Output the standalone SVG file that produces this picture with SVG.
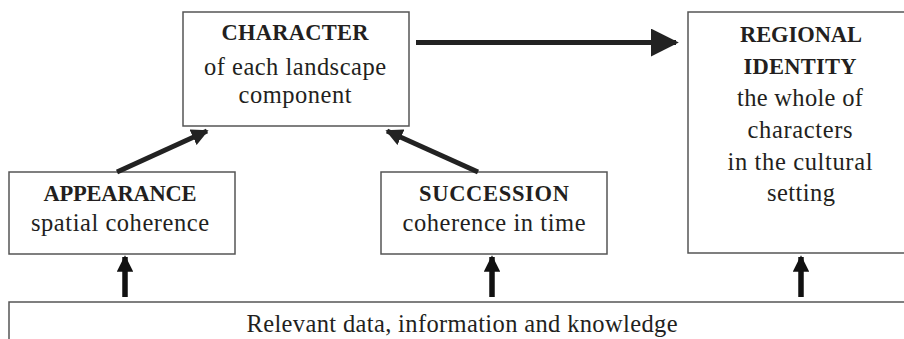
<svg xmlns="http://www.w3.org/2000/svg" width="904" height="339" viewBox="0 0 904 339">
<style>
.box{fill:#fff;stroke:#555;stroke-width:1.5}
text{font-family:"Liberation Serif","DejaVu Serif",serif;font-size:24.5px;fill:#231f20;text-anchor:middle}
.b{font-weight:bold;font-size:22.5px}
.ln{stroke:#222;stroke-width:5;fill:none}
.up{stroke:#111;stroke-width:5.5;fill:none}
</style>
<defs>
<marker id="ah" viewBox="0 0 10 10" refX="9" refY="5" markerWidth="5.6" markerHeight="5.6" markerUnits="strokeWidth" orient="auto"><path d="M0,0 L10,5 L0,10 z" fill="#222"/></marker>
<marker id="ahs" viewBox="0 0 10 10" refX="9" refY="5" markerWidth="3.4" markerHeight="3.4" markerUnits="strokeWidth" orient="auto"><path d="M0,0 L10,5 L0,10 z" fill="#222"/></marker>
<marker id="ahu" viewBox="0 0 10 10" refX="9" refY="5" markerWidth="3" markerHeight="3" markerUnits="strokeWidth" orient="auto"><path d="M0,0 L10,5 L0,10 z" fill="#111"/></marker>
</defs>
<g id="character">
<rect class="box" x="183" y="12" width="226" height="114"/>
<text class="b" x="295" y="40" textLength="147" lengthAdjust="spacing">CHARACTER</text>
<text x="295" y="75" textLength="182" lengthAdjust="spacing">of each landscape</text>
<text x="295" y="103" textLength="113" lengthAdjust="spacing">component</text>
</g>
<g id="regional">
<rect class="box" x="688" y="12" width="230" height="241"/>
<text class="b" x="801" y="42" textLength="122" lengthAdjust="spacing">REGIONAL</text>
<text class="b" x="800" y="74" textLength="113" lengthAdjust="spacing">IDENTITY</text>
<text x="800" y="106" textLength="126" lengthAdjust="spacing">the whole of</text>
<text x="800" y="138" textLength="105" lengthAdjust="spacing">characters</text>
<text x="800" y="170" textLength="145" lengthAdjust="spacing">in the cultural</text>
<text x="801" y="201" textLength="68" lengthAdjust="spacing">setting</text>
</g>
<g id="appearance">
<rect class="box" x="9" y="172" width="226" height="82"/>
<text class="b" x="120" y="201" textLength="153" lengthAdjust="spacing">APPEARANCE</text>
<text x="120" y="231" textLength="178" lengthAdjust="spacing">spatial coherence</text>
</g>
<g id="succession">
<rect class="box" x="381" y="172" width="226" height="82"/>
<text class="b" x="494" y="201" textLength="150" lengthAdjust="spacing">SUCCESSION</text>
<text x="494" y="231" textLength="183" lengthAdjust="spacing">coherence in time</text>
</g>
<g id="data">
<rect class="box" x="9" y="302" width="910" height="60"/>
<text x="462" y="332" textLength="431" lengthAdjust="spacing">Relevant data, information and knowledge</text>
</g>
<g id="connectors">
<line class="ln" x1="416" y1="42.5" x2="676" y2="42.5" marker-end="url(#ah)"/>
<line class="ln" x1="117" y1="172" x2="207" y2="131" marker-end="url(#ahs)"/>
<line class="ln" x1="478" y1="172" x2="387" y2="131" marker-end="url(#ahs)"/>
<line class="up" x1="125" y1="297" x2="125" y2="257" marker-end="url(#ahu)"/>
<line class="up" x1="492" y1="297" x2="492" y2="257" marker-end="url(#ahu)"/>
<line class="up" x1="801" y1="297" x2="801" y2="257" marker-end="url(#ahu)"/>
</g>
</svg>
